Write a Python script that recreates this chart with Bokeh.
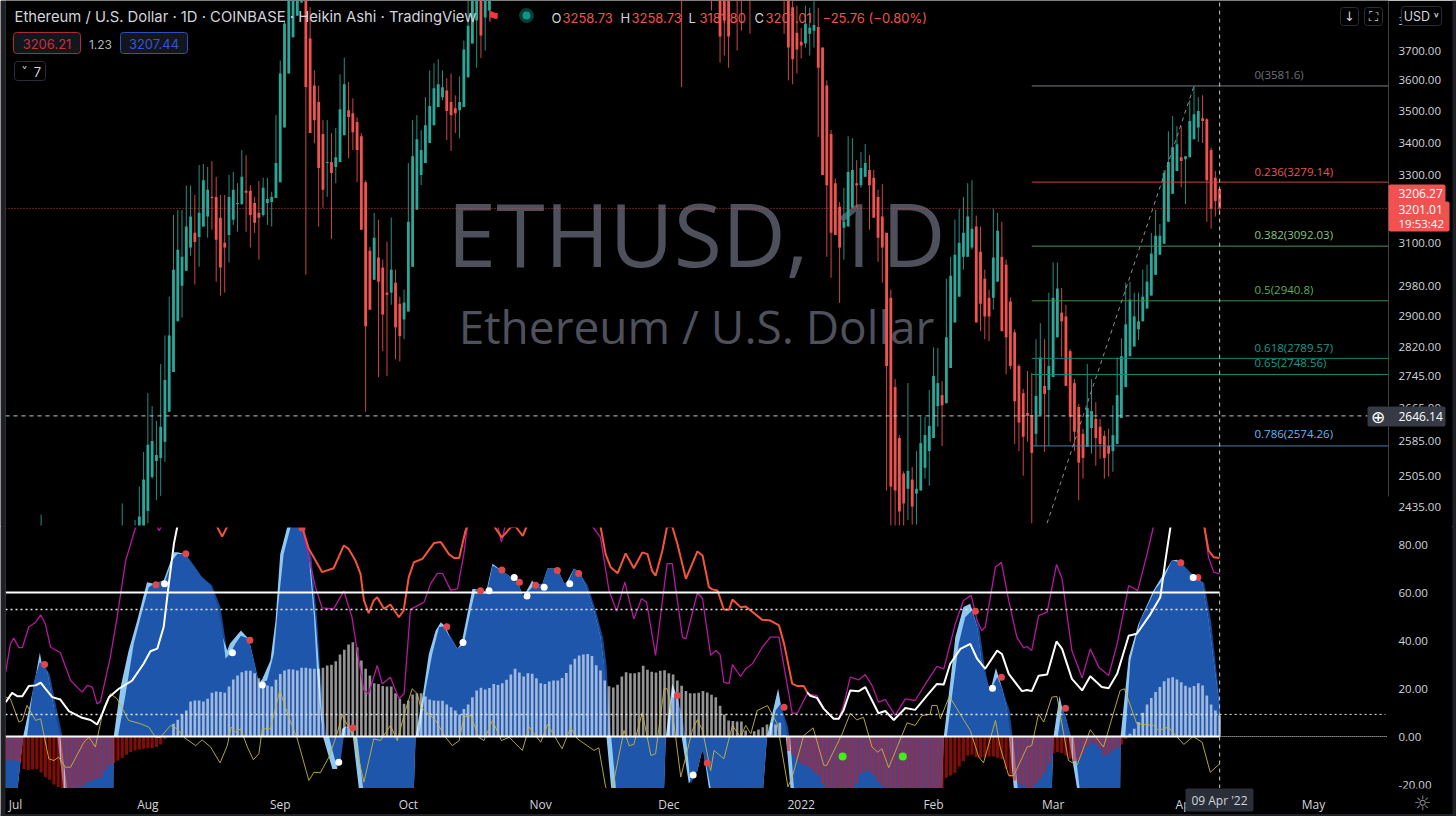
import math
from bokeh.plotting import figure
from bokeh.layouts import column, row
from bokeh.embed import file_html
from bokeh.resources import INLINE
from bokeh.core.properties import value
from bokeh.models import (Range1d, Label, BoxAnnotation, FixedTicker, PrintfTickFormatter, ColumnDataSource)

# ---------------- price data (day 0 = 1 Jul 2021) ----------------
days = [6, 25] + list(range(28, 112)) + [156, 163, 165, 166, 167, 169, 170, 172] + list(range(180, 283))
opens = [2300,2250,2300,2340,
 2380,2425,2502,2539,2546,2584,2656,2755,2886,2982,
 3023,3088,3130,3118,3148,3177,3235,3235,3174,3102,
 3124,3168,3214,3214,3253,3253,3217,3188,3182,3217,
 3220,3232,3279,3448,3623,3745,3820,3867,3950,3741,
 3583,3529,3427,3337,3340,3325,3340,3423,3503,3493,
 3465,3420,3279,3079,2998,3060,3032,2963,2963,2990,
 2933,2891,2912,3034,3197,3301,3337,3399,3455,3513,
 3545,3567,3529,3509,3503,3513,3610,3724,3803,3950,3814,3838,
 4200,4000,3950,3950,3950,3950,3950,3950,
 3950,3950,3850,3761,3730,3724,3757,3768,3781,3710,
 3583,3427,3276,3206,3145,3148,3203,3276,3270,3295,
 3316,3292,3235,3177,3130,2949,2717,2593,2510,2475,
 2496,2464,2471,2523,2562,2593,2670,2697,2677,2765,
 2883,2952,3062,3062,3088,3148,3076,3001,2949,2949,
 2993,3062,3040,2939,2857,2770,2702,2653,2648,2603,
 2648,2720,2710,2742,2844,2909,2899,2808,2727,2668,
 2603,2572,2617,2639,2620,2598,2574,2562,2579,2641,
 2717,2795,2820,2865,2886,2920,2955,3012,3068,3099,
 3162,3244,3313,3355,3349,3355,3411,3448,3477,3474,
 3377,3292,3258.73]
highs = [2417,2442,2405,2480,
 2560,2702,2670,2634,2775,2849,2952,3182,3196,3196,
 3269,3269,3241,3331,3334,3325,3343,3295,3241,3241,
 3301,3310,3276,3377,3361,3270,3235,3282,3292,3292,
 3250,3487,3666,3803,3960,3990,4000,4050,4050,3850,
 3633,3583,3471,3471,3430,3446,3620,3676,3594,3541,
 3480,3430,3285,3090,3188,3168,3054,3105,3174,3026,
 2952,2971,3337,3471,3487,3439,3545,3633,3657,3670,
 3633,3607,3623,3551,3613,3734,3874,3980,4050,4050,4100,4150,
 4300,4100,4000,4000,4000,4020,4020,4020,
 4020,4000,3950,3855,3778,3855,3848,3874,3848,3710,
 3600,3440,3290,3220,3262,3420,3414,3346,3371,3396,
 3361,3316,3256,3273,3130,2971,2737,2600,2515,2727,
 2525,2562,2644,2644,2710,2818,2816,2732,3001,3062,
 3168,3200,3235,3276,3285,3180,3148,3026,2971,3200,
 3188,3162,3054,2950,2865,2775,2712,2757,2752,2839,
 2881,2839,2963,3046,3046,2976,2930,2813,2737,2675,
 2615,2775,2737,2680,2639,2610,2615,2672,2792,2841,
 2990,2993,2963,2963,3026,3040,3130,3197,3156,3316,
 3436,3484,3452,3452,3358,3535,3581.6,3545,3551,3477,
 3385,3313,3258.73]
lows = [2250,2200,2280,2320,
 2370,2398,2498,2449,2459,2537,2656,2755,2886,2896,
 3023,3065,2985,3034,3148,3116,3139,2993,2955,2963,
 3046,3153,3133,3211,3133,3088,3130,3054,3177,3153,
 3148,3232,3279,3448,3623,3745,3820,3867,3012,3430,
 3398,3148,3203,3235,3113,3276,3340,3423,3352,3377,
 3279,3139,2656,2917,2998,2742,2808,2745,2930,2787,
 2782,2839,2912,3034,3197,3270,3337,3399,3455,3513,
 3535,3408,3374,3430,3414,3513,3610,3724,3642,3675,3700,3803,
 3578,3838,3659,3683,3642,3700,3768,3757,
 3757,3600,3587,3623,3673,3710,3683,3710,3418,3301,
 3062,3004,3124,2935,3054,3148,3203,3203,3262,3295,
 3139,3174,3048,2990,2471,2390,2390,2390,2390,2405,
 2395,2395,2471,2498,2482,2593,2620,2574,2677,2765,
 2883,2952,3026,3062,3082,2883,2860,2839,2834,2917,
 2993,2860,2749,2762,2579,2562,2505,2584,2398,2574,
 2648,2560,2574,2742,2844,2792,2720,2584,2562,2449,
 2498,2572,2556,2528,2544,2498,2503,2514,2579,2641,
 2717,2795,2820,2837,2886,2920,2955,3012,3068,3099,
 3162,3244,3313,3264,3214,3355,3411,3402,3399,3162,
 3142,3177,3181.80]
closes = [2350,2350,2380,2413,
 2496,2577,2586,2553,2620,2735,2849,3026,3082,3062,
 3148,3177,3104,3188,3285,3256,3232,3110,3032,3088,
 3235,3256,3217,3295,3247,3182,3159,3174,3262,3229,
 3235,3337,3623,3793,3900,3920,3950,3980,3578,3430,
 3471,3322,3256,3340,3307,3355,3506,3587,3481,3433,
 3377,3139,2873,2917,3116,2993,2904,2957,3026,2870,
 2847,2936,3162,3358,3411,3377,3455,3516,3574,3587,
 3577,3500,3487,3493,3529,3703,3785,3900,3950,3751,4000,4050,
 4100,3950,3748,3803,3748,3900,3900,3900,
 3900,3710,3670,3703,3717,3792,3778,3788,3642,3301,
 3270,3130,3124,3088,3162,3310,3316,3270,3322,3337,
 3270,3174,3116,3088,2770,2480,2471,2424,2442,2516,
 2435,2475,2581,2600,2622,2745,2727,2672,2844,3009,
 3068,3102,3130,3177,3142,2883,2933,2899,2899,3060,
 3136,2860,2844,2770,2682,2630,2596,2646,2558,2695,
 2792,2700,2770,2949,2974,2886,2720,2644,2608,2535,
 2546,2665,2658,2593,2579,2546,2556,2600,2697,2795,
 2878,2944,2899,2886,2952,2993,3071,3122,3122,3307,
 3340,3386,3395,3343,3358,3468,3490,3500,3468,3285,
 3200,3223,3201.01]

fib_ratios = ["0", "0.236", "0.382", "0.5", "0.618", "0.65", "0.786"]
fib_prices = [3581.6, 3279.14, 3092.03, 2940.8, 2789.57, 2748.56, 2574.26]
fib_label_text = ["0(3581.6)", "0.236(3279.14)", "0.382(3092.03)", "0.5(2940.8)", "0.618(2789.57)", "0.65(2748.56)", "0.786(2574.26)"]
fib_line_colors = ["#7e8088", "#c9443f", "#4f8f5a", "#3f8f45", "#12857a", "#12857a", "#4a7ea8"]
fib_text_colors = ["#6f727c", "#ef5350", "#81c784", "#5cae5f", "#1b9a8c", "#1b9a8c", "#64b5f6"]
trend_days = [238, 276]
trend_prices = [2300, 3581.6]
last_price = 3201.01
cross_price = 2646.14
cross_day = 282

price_ticks = [3800, 3700, 3600, 3500, 3400, 3300, 3200, 3100, 2980, 2900, 2820, 2745, 2665, 2585, 2505, 2435]
osc_ticks = [80, 60, 40, 20, 0, -20]
month_days = [0, 31, 62, 92, 123, 153, 184, 215, 243, 274, 304]
month_names = ["Jul", "Aug", "Sep", "Oct", "Nov", "Dec", "2022", "Feb", "Mar", "Apr", "May"]

# ---------------- oscillator data ----------------
hist_days = list(range(-2, 283))
hist_values = [-10, -10,
 -10,-10.5,-13.5,-14,-13.8,-13.5,-15,-17,-18,-20,
 -21,-24,-24,-24,-24,-20.7,-20.4,-19,-18.3,-17.6,
 -17,-14,-12,-11,-10,-9,-7.6,-6.5,-5.8,-5.4,
 -5.1,-4.9,-4.9,-4.4,-3.3,-1,0,5.3,7,9.4,
 10.8,14.6,15,15,14.6,15.7,18.2,18.75,18.5,18.2,
 20.8,23.8,25.4,26.8,27.4,27.4,26.4,24.3,22,21.3,
 20.8,23.6,26,27.5,28,27.9,27.5,28.6,28.6,28.3,
 28.2,28.2,28.6,29.6,29.9,31.4,34.2,36.1,38.3,39.3,
 37.2,31.7,28.2,25.4,22.2,21.9,21,20.8,20.8,18,
 15.7,13.6,15,17.5,18,18,16.7,15.4,15,14.9,
 14.9,13.3,12.2,10.8,9.2,11.5,13.3,16.4,19.2,20.3,
 19.6,20.2,21.9,21.5,22.2,23.6,25.8,28.2,26.7,25,
 26.4,26.1,24.3,22.2,21.9,22.9,23.3,23.3,24.4,26.5,
 30,32.4,33.8,34.2,34.4,33.5,29.7,27.5,23.3,20.9,
 20.4,21.6,25,26.8,26.4,26.4,26.8,29.5,27.8,27,
 26.7,27.4,27.6,26.4,25.8,23.3,21.1,19,18,18,
 18.2,19,18.3,17.4,16.4,12.8,9.2,6.7,6.5,6.3,
 6.3,2.5,0.4,2.2,2.9,3.9,5,5.6,5,5.7,
 0.5,-6,-7.5,-10,-11.4,-12,-13.2,-14.9,-16.2,-19.7,
 -24,-24,-24,-24,-24,-24,-24,-19.7,-15.5,-14.6,
 -14.6,-16.2,-18.6,-20.4,-24,-24,-24,-24,-24,-24,
 -24,-24,-24,-24,-24,-24,-24,-24,-17.2,-16.2,
 -15.1,-12.5,-10.3,-7.9,-7.6,-8.6,-8.9,-8.6,-8.3,-8.3,
 -8.9,-9.4,-13.5,-16.9,-18.3,-19.7,-20.4,-24,-24,-19.7,
 -17.6,-15.1,-11.4,-7.2,-6.5,-6.9,-7.9,-9.3,-10.3,-10,
 -7.2,-4.2,-2.8,-3.3,-5.1,-7.9,-7.2,-5.8,-4.7,-3.3,
 -1,1.1,3.2,6,9.9,13.3,16,18.5,20.6,23,
 24.3,24.7,23.8,22.6,21.1,20.4,21,22.2,21.3,17.1,
 13.3,10.8,8.75]

light_pts = [(-2.3,-30),(0.4,-30),(0.5,-21.5),(1.8,0),(4.3,21),(5.7,35),(6.2,30),(7.4,27.5),(9,12),(9.8,0),(11.2,-21.5),(11.7,-30),
 (22.6,-30),(22.9,-21.5),(23,0),(24.6,20.5),(26.5,35.8),(28.5,48.3),(30.8,64.3),(32.4,63.6),(34.7,65),(37.1,76.8),(37.9,76.8),(39.8,76),
 (45,60),(49.6,35.8),(50.2,38.6),(52.8,44.2),(53.9,42),(54.6,40.7),(57,22),(57.8,24),(59.7,31.7),(60.9,48.3),(62,76),(63.6,87),(65.2,92.7),(66.5,92),(67.1,87.5),
 (69,73),(70.3,48),(71.4,20.6),(72,0),(74.2,-13.5),(75.3,-13.5),(76.5,3.2),(77.3,4.2),(78.4,3.9),(79,0),(80.4,-21.5),(81,-30),
 (92.9,-30),(93.3,-21.5),(93.7,0),(95.3,16.4),(96.8,34.4),(98.4,44.2),(99.6,47.6),(100.7,45.8),(101.9,40.7),(103.5,36.5),(104.5,39.3),(107,61.5),(107.8,61.5),(109.3,60),(110.3,60.8),(111.7,72),
 (114,69),(116,66.4),(117.9,63),(118.9,58),(121,65),(121.8,63),(123.4,63.6),(124.6,70),(126.9,70),(128.5,63.6),(129.1,64.3),(130.8,70),(132,68.5),(133.5,63),(135.5,52.5),(137,41.4),(137.8,30),(138.4,0),(139.5,-21.5),(140,-30),
 (151.7,-30),(151.9,-21.5),(152.3,0),(153.8,22),(155,16.4),(155.8,8),(156,0),(157.7,-19.7),(158.7,-16.3),(159.7,-14.2),(160.8,-5.8),(161.2,-7.2),(162.4,-21.5),(163,-30),
 (174.9,-30),(175.1,-21.5),(176,0),(178.6,20),(179.2,13.6),(180,4),(180.4,0),(181.5,-21.5),(182,-30),
 (216.9,-30),(217,-21.5),(217.4,0),(218.5,16.4),(220.1,41.4),(222,54),(223.6,55.3),(225.2,45.6),(226.3,30.3),(227.9,19.9),(228.3,19.2),(229.6,28.5),(231,20.6),(232.2,10.8),(232.6,0),(233.8,-21.5),(234,-30),
 (242.6,-30),(242.7,-21.5),(243.1,0),(244.5,17),(245.1,12.2),(246.2,6.7),(246.6,0),(248.6,-21.5),(249,-30),
 (258.6,-30),(258.7,-21.5),(258.8,0),(260.7,33),(263,47),(266.5,60.8),(270.8,73.3),(272,73.6),(275.5,67),(277.9,64.3),(279.4,48.3),(281.4,20.6),(282,12.2)]

core_pts = [(-2.3,-30),(0.4,-30),(0.5,-21.5),(1.8,0),(2.7,0),(4.3,23),(5.7,31),(7.4,27.5),(9,12),(10.5,0),(12.1,-21.5),(12.6,-30),
 (22.6,-30),(22.9,-21.5),(23,0),(24,0),(25.8,17.8),(27.7,38.6),(29.3,49.7),(31.2,62.2),(32.4,63.6),(35.1,65),(36.7,73.3),(37.9,76),(39.8,76),(41.8,71.3),(43.7,66.4),(45.7,63),(47.2,55.3),(48.4,44.2),(49.2,32.4),
 (50.4,35),(51.5,38.6),(52.8,42),(54.6,40.7),(55.8,31.7),(57,22),(58.9,23.3),(60.5,34.4),(61.4,52.5),(62.8,76),(64.4,87),(65.6,92),(66.7,92),(67.1,87.5),(68.7,74.7),(69.9,49.7),(70.6,27.5),(71.6,6.7),(72.4,0),
 (73.4,0),(75.3,-13),(76.1,-10.7),(76.9,0),(77.3,3.9),(78.4,3.9),(79.2,0),(80,0),(81.4,-21.5),(82,-30),
 (92.9,-30),(93.3,-21.5),(93.7,0),(94.5,0),(96,19.2),(97.6,34.4),(99.2,45.6),(100.3,45.8),(101.9,40.7),(103.5,36.5),(105,38.6),(106.6,52.5),(107.8,61.5),(109.3,60),(110.5,60.8),(111.7,71.3),
 (114,69),(116,66.4),(117.9,63),(118.9,58),(120.3,60.8),(121.4,63),(123.4,63.6),(124.6,69.9),(126.9,69.9),(128.5,63.6),(129.6,65),(130.8,69.9),(132,68.5),(133.5,63),(135.5,52.5),(137,41.4),(137.8,30.3),(138.4,12.2),(138.8,0),(139.5,0),(140.6,-21.5),(141,-30),
 (151.7,-30),(151.9,-21.5),(152.3,0),(153.1,0),(153.8,16.4),(155,16.4),(155.8,8),(156.4,0),(157,0),(158.1,-19.7),(158.7,-17.6),(159.7,-14.2),(160.8,-5.8),(161.6,-10),(162.8,-21.5),(163.3,-30),
 (174.9,-30),(175.1,-21.5),(176,0),(176.8,0),(178,10.8),(179.2,13.6),(180.4,3.9),(180.8,0),(181.4,0),(182.3,-21.5),(182.8,-30),
 (216.9,-30),(217,-21.5),(217.4,0),(218.1,0),(219.3,16.4),(220.9,38.6),(222.4,49.7),(224,52.5),(225.2,45.6),(226.3,30.3),(228.3,19.2),(229.9,24.7),(231,20.6),(232.2,10.8),(233.1,0),(233.6,0),(234.7,-21.5),(235,-30),
 (242.6,-30),(242.7,-21.5),(243.1,0),(244.1,0),(245.1,12.2),(246.2,6.7),(247.2,0),(247.8,0),(249.2,-21.5),(249.6,-30),
 (258.6,-30),(258.7,-21.5),(258.8,0),(259.9,0),(261.1,31.7),(263.4,48.3),(267,61.5),(268.9,65.7),(270.8,73.3),(272.8,72.6),(275.5,67),(277.9,64.3),(279.4,48.3),(281.4,20.6),(282,12.2)]

dark_pts = [(5,0),(5.7,31),(8,26),(9.6,12),(11,0),(40,0),(43.7,66.4),(46,63),(48,54),(49.2,40),(49.9,30),(50.4,0),
 (53,0),(54.6,41),(56,31),(57.3,20),(57.6,0),(66,0),(67.1,88),(69.3,75),(70.6,50),(71.4,27),(72.2,8),(72.8,0),
 (99,0),(100.3,46),(102.3,40.7),(104,35),(104.5,0),(131,0),(132,68.5),(134,63),(136,52),(137.6,41),(138.4,30),(139,12),(139.4,0),
 (154.9,0),(155,16.4),(156.2,8),(156.8,0),(178.9,0),(179.2,13.6),(180.9,3.9),(181.2,0),
 (223.9,0),(224,52.5),(225.7,45.6),(226.9,30),(228,20),(228.5,0),(230.9,0),(231,20.6),(232.8,10.8),(233.5,0),
 (272.7,0),(272.8,72.6),(276,67),(278.4,64),(280,48),(282,15)]

mom_pts = [(-2.3,14.3),(-0.8,18.2),(0.4,16.8),(1.6,16.8),(3.1,21),(4.7,21.3),(5.9,22.4),(7,19.9),(8.6,16.4),(10.5,15.4),(12.5,10.6),(15.6,7.8),(17.6,6.9),(19.1,5),(20.3,9.4),(21.9,16.4),(24.2,19.9),(27.3,23.3),(30,30.3),(31.6,35.5),(33.2,36.6),(34.7,45.6),(35.9,63.6),(37.1,80.3),(37.9,87.5),(39,100),
 (46,100),(47.2,87.5),(48.4,83.3),(49.6,87.5),(50.5,95),(66,100),(67.1,87.5),(68.7,78.2),(71.8,68.5),(74.5,70.1),(76.9,79.6),(78,78.2),(79.6,73.3),(80.8,67.8),(81.6,56.7),(82.7,51.4),(83.9,56.7),(84.7,58),(86.3,53.2),(87.8,55),(89.8,49.7),(90.9,52.5),(92.1,66.4),(93.3,72.6),(95.3,74),(98,80.6),(99.6,81),(101.5,76),(102.7,74.4),(103.9,74.4),(105.4,85.8),(105.8,87.5),(106.5,95),
 (111,100),(112.1,87.5),(113.9,83),(116,87.2),(117.1,87.5),(118.8,83.6),(119.7,87.5),(120.5,95),(136,100),(137,87.5),(138.2,76),(139.4,70.5),(141,68),(142.9,76.3),(144.8,70.1),(146.8,76.7),(148,76),(149.1,69),(149.9,67),(151.5,77.5),(152.6,87.5),(153.8,87.5),(155,80.3),(157,65.7),(159.7,77.1),(160.9,75.4),(162.4,62.2),(163.2,61.3),(164.4,60.8),(165.9,52.9),(167.1,52.8),(167.9,57.1),(169.8,53.9),(171,54.2),(174.9,48.6),(176.8,48.3),(178.8,46.3),(180,38.6),(181.9,22),(183.1,21),(184.6,21),(185.4,18.5),
 (186.1,17),(187.7,16.1),(189.3,11.5),(191.6,7.4),(192.8,7.4),(193.9,10.8),(195.5,19.2),(197.5,18.9),(199,20.6),(200.6,15),(202.1,9.7),(203.7,10.6),(205.7,6.9),(208.4,11.9),(210.7,11.1),(213.5,17.1),(215.8,21.9),(217.4,21.7),(218.9,30.3),(221.3,36.5),(223.6,38.6),(225.2,32.4),(227.1,28.2),(229.9,35.8),(231,34.4),(232.6,26.1),(235.7,18.9),(236.9,19.4),(238,18.9),(239.6,25.3),(241.6,25.8),(243.8,39.6),(245.1,36.5),(247.4,24),(249.8,19.2),(251.7,25.1),(254.4,20.6),(256,20.1),(258,26.1),(260.7,42),(262.6,42.8),(265.8,51),(268.1,58),(269.3,73.3),(270.5,87.5),(271.5,100),
 (277,100),(278.4,87.5),(279.4,77.5),(280.6,74.7),(282,74.4)]
mom_red_spans = [(42, 185.4), (275, 283)]

magenta_pts = [(-2.3,26.8),(-1.2,38.6),(-0.4,41),(0.8,37),(1.6,37),(3.1,45.6),(4.7,47.6),(5.9,50.7),(7,46.9),(8.2,37.2),(10.5,35),(12.9,23.3),(15.6,18.5),(16.8,21.3),(18,20.6),(19.1,13.6),(19.9,14.6),(22.2,33),(23.8,49.7),(25.8,73.3),(28.1,87),(29,92),(32,92),(33.6,85.8),(34.7,89),(36,100),
 (66,100),(67.1,87.5),(69,72),(70.3,62),(71.8,53.6),(74.5,53.2),(76.9,60.6),(78.8,49.7),(80,35.8),(81.6,19.2),(82.7,17.8),(84.7,29.6),(85.9,21.9),(87.8,24.7),(89.8,15.7),(91,17.8),(92.5,53),(95.7,56),(97.2,63.6),(98.8,68),(100,68),(101.9,61),(103.5,61.5),(105,76),(105.8,87.5),(106.4,95),
 (112,95),(113.8,81),(115.6,95),(134,100),(135.1,87.5),(137,83),(139,60.8),(140.8,52.2),(142.7,64.3),(144.8,49),(146.6,57.4),(147.8,56),(149.9,33.8),(152.6,72),(153.8,72),(156.2,41.4),(157,40.7),(159.7,60),(160.9,57.4),(162.8,33.8),(164,35.8),(165,34.2),(165.9,22.6),(167.1,22),(167.9,29.9),(169.8,25),(171,28.2),(172.6,30.3),(174.9,37.2),(176.8,41.4),(178.8,41.4),(180,28.9),(181.9,9.7),(183.1,9.7),(185.4,17.8),
 (187.7,17),(189.3,11.5),(191.6,7.4),(192.8,7.4),(193.9,12.9),(195.5,24.7),(197.5,23.6),(199,25.8),(200.6,21.3),(202.1,14.3),(203.7,15.4),(206,8.8),(208.4,15.7),(210.7,15),(213.1,21.9),(215.8,29.2),(217.4,28.2),(220.1,47),(222,56.7),(223.8,58.8),(225.2,48.3),(226.3,44.2),(227.1,45.6),(229.5,70.6),(230.9,72.6),(232.6,56.7),(234.5,41.4),(236.1,36.9),(236.9,37.5),(238,35.8),(239.6,50.4),(241.6,51.8),(243.8,71.7),(245.1,65.7),(247.4,35.8),(249.8,24.4),(251.7,36.5),(253.7,28.9),(256,25.4),(258,38.6),(260.7,62.9),(262.8,60.8),(265,76),(266.5,87.5),(267.5,100),
 (277,100),(278.4,87.5),(279.4,74.7),(280.6,68.5),(282,67.8)]

yellow_pts = [(-2.3,16.4),(-1.2,15.7),(0.8,6),(1.6,6.7),(2.7,13),(4.7,6.7),(5.9,7.4),(7.8,-9.3),(9,-10),(10.1,-8.6),(11.7,-12.8),(12.9,-12.8),(16,-2.4),(17.2,-0.3),(18.7,-4.4),(20.7,12.2),(22.2,17.8),(23.8,15.7),(26.5,6.7),(29.3,5.3),(31.2,3.9),(32.8,-0.3),(34,-0.3),(36.3,4.6),(37.9,3.2),(39.4,-0.3),(42.2,-3.8),(43.7,-1.4),(45.7,-4.4),(47.9,-11),(49.6,-3.8),(50.5,3.9),(51.5,1.8),(52.7,3.2),(54.3,-4.4),(55.7,-9.7),(57,-7.2),(57.8,3.2),(59.7,3.2),(61.9,19.2),(64,8),(66,-1),(68.7,-18.3),(69.9,-14.9),(71.4,-15.1),(73.4,-8.6),(75.3,1.1),(76.5,8.8),(78,3.9),(79.2,-0.3),(81.6,-19),(83.9,-1),(85.5,-1.7),(87.8,4.6),(89.4,-1.7),(91.3,10.8),(92.9,19.9),(94.1,17.8),(94.9,12.2),
 (98.4,6.7),(100.7,-0.3),(102.3,-3.8),(103.9,-1.7),(105,8),(106.6,8.8),(108.5,-0.3),(109.7,-1.7),(111.7,6.7),(113.8,-1.7),(115.6,-0.3),(118.7,-5.8),(120.3,3.9),(123,-2.4),(124.6,5),(128,-5.1),(130,3.6),(131.6,-1),(135.5,-5.8),(136.6,-4.7),(138.2,-21),(139.5,-24),(142.5,2.5),(143.7,-3.8),(144.8,-3.3),(146.8,10),(148.8,-7.9),(149.9,-7.2),(151.9,19.9),(152.6,19.9),(154.2,5.3),(155.8,-16.9),(158.5,2.5),(159.7,7),(160.9,2.5),(162.8,-14.2),(163.6,-5.8),(165.9,-9.3),(167.9,4.6),(169.8,-0.3),(171,4.6),(172.2,1.1),(173.7,10.8),(176.1,12.9),(178.4,5.3),(180.9,-21),(181.9,-16.9),(184.6,0.4),(186.8,3.6),
 (189.3,-12),(190,-12),(193.6,1.1),(195.5,9.7),(197,6.9),(198.6,8),(200.6,-4.4),(201.9,-6.5),(202.9,-5.1),(204.5,-13),(208.8,5.7),(210.7,4.6),(212.3,8.8),(214.2,9.2),(214.6,12.9),(215.8,12.9),(216.6,7.4),(218.7,16.7),(223.6,2.5),(225.6,-8.6),(226.7,-11),(229.5,6.7),(230.6,-4.4),(232.6,-16.3),(233.8,-16.3),(236.9,-4.4),(238,-3.8),(239.6,9.4),(240.8,6),(242.7,16.4),(243.9,16.7),(246.6,-10),(248.6,-12),(251.7,2.8),(254.8,-4.4),(258.7,19.2),(259.7,19.9),(262.6,5.3),(266.5,4.6),(267.7,2.5),(270,3.9),(273.6,-3.3),(275.8,0),(277.9,-2.4),(279.8,-14.9),(282,-11.4)]

red_dots = [(6.8,30),(32.9,63.2),(39.9,76.1),(54.9,40.1),(67.1,86.9),(79,3.6),(101,45.7),(108.9,60.7),(113.9,69.4),(118,64.3),(121.8,63),(126.9,69.2),(131.9,67.9),(155,17.1),(162,-11),(180,12.2),(224.8,52.2),(230.9,24.7),(245.9,11.8),(272.9,72.4),(276.9,66.3)]
white_dots = [(34.9,63.6),(50.8,34.9),(57.8,21.5),(75.7,-10.7),(104.8,39.2),(110.9,60.7),(116.8,66.3),(119.8,58.5),(123.8,62.2),(129.8,63.6),(158.7,-16),(228.8,20.1),(275.8,66.3)]
green_dots = [(193.7,-8.3),(207.8,-8.3)]

level_solid = [60, 0]
level_dotted = [52.9, 9.2]

# ---------------- page geometry helpers (chrome placement only) ----------------
X = lambda px: (px - 15) / 4.27
PY = lambda y: 3700 * math.exp((50 - y) / 1090)
VY = lambda y: (736 - y) / 2.4
TXT = "#d1d4dc"
TV = "Open Sans"
HD = "Inter"
GREEN, RED = "#2ba79a", "#ef5350"


def style(p):
    p.grid.visible = False
    p.outline_line_color = None
    p.outline_line_alpha = 0
    p.background_fill_color = "#000000"
    p.border_fill_color = "#000000"
    for ax in p.yaxis:
        ax.axis_line_color = None
        ax.major_tick_line_color = None
        ax.minor_tick_line_color = None
        ax.major_tick_out = 0
        ax.major_tick_in = 0
        ax.minor_tick_out = 0
        ax.major_label_text_color = TXT
        ax.major_label_text_font = TV
        ax.major_label_text_font_size = "11.5px"
        ax.major_label_standoff = 10
        ax.formatter = PrintfTickFormatter(format="%.2f")


# ---------------- price pane ----------------
p1 = figure(width=1456, height=526, x_range=Range1d(X(5), X(1388)), y_range=Range1d(PY(526), PY(0)),
            y_axis_type="log", x_axis_location=None, y_axis_location="right", toolbar_location=None,
            output_backend="svg", min_border_left=5, min_border_right=68, min_border_top=0, min_border_bottom=0)
style(p1)
p1.yaxis[0].ticker = FixedTicker(ticks=price_ticks)

p1.text(x=[X(696)], y=[PY(232)], text=["ETHUSD, 1D"], text_color="#4e505c", text_font=value(TV),
        text_font_size=value("88px"), text_align="center", text_baseline="middle")
p1.text(x=[X(696)], y=[PY(325)], text=["Ethereum / U.S. Dollar"], text_color="#4e505c", text_font=value(TV),
        text_font_size=value("46px"), text_align="center", text_baseline="middle")

colors = [GREEN if c >= o else RED for o, c in zip(opens, closes)]
src = ColumnDataSource(dict(d=days, o=opens, h=highs, l=lows, c=closes, col=colors,
                            top=[max(a, b) for a, b in zip(opens, closes)],
                            bot=[min(a, b) for a, b in zip(opens, closes)]))
p1.segment("d", "h", "d", "l", source=src, line_color="col", line_width=1, line_alpha=0.85)
p1.vbar("d", 0.66, "top", "bot", source=src, fill_color="col", line_color=None)

for pr, col in zip(fib_prices, fib_line_colors):
    p1.line([238, X(1388)], [pr, pr], line_color=col, line_width=1)
p1.line(trend_days, trend_prices, line_color="#8a8d94", line_width=1, line_dash="4 4")
p1.line([X(5), X(1388)], [last_price, last_price], line_color="#ef5350", line_width=1, line_dash="1 2", line_alpha=0.85)
p1.line([X(5), X(1367)], [cross_price, cross_price], line_color="#c8c9cc", line_width=1, line_dash="4 4")
p1.line([cross_day, cross_day], [PY(526), PY(0)], line_color="#c8c9cc", line_width=1, line_dash="4 4")

# ---------------- oscillator pane ----------------
p2 = figure(width=1456, height=290, x_range=Range1d(X(5), X(1388)), y_range=Range1d(VY(788), VY(526)),
            y_axis_location="right", toolbar_location=None, output_backend="svg",
            min_border_left=5, min_border_right=68, min_border_top=0, min_border_bottom=28)
style(p2)
p2.yaxis[0].ticker = FixedTicker(ticks=osc_ticks)
xa = p2.xaxis[0]
xa.ticker = FixedTicker(ticks=month_days)
xa.major_label_overrides = dict(zip(month_days, month_names))
xa.axis_line_color = None
xa.major_tick_line_color = None
xa.minor_tick_line_color = None
xa.major_tick_out = 0
xa.major_tick_in = 0
xa.minor_tick_out = 0
xa.major_label_text_color = TXT
xa.major_label_text_font = TV
xa.major_label_text_font_size = "12px"
xa.major_label_standoff = 7


def unzip(pts):
    return [a for a, _ in pts], [b for _, b in pts]


dd, dv = unzip(dark_pts)
p2.varea(dd, [0] * len(dd), dv, fill_color="#17458f")
ld, lv = unzip(light_pts)
p2.varea(ld, [0] * len(ld), lv, fill_color="#8ec8f3")
cd, cv = unzip(core_pts)
p2.varea(cd, [0] * len(cd), cv, fill_color="#1e56ab")

pos = [(d, v) for d, v in zip(hist_days, hist_values) if v >= 0]
neg = [(d, v) for d, v in zip(hist_days, hist_values) if v < 0]
pd_, pv_ = unzip(pos)
nd_, nv_ = unzip(neg)
p2.vbar(nd_, 0.72, [0] * len(nd_), nv_, fill_color="#e3140a", fill_alpha=0.58, line_color=None)
p2.vbar(pd_, 0.62, [0] * len(pd_), pv_, fill_color="#ffffff", fill_alpha=0.58, line_color=None)

yd, yv = unzip(yellow_pts)
p2.line(yd, yv, line_color="#c9b43c", line_width=1, line_alpha=0.9)
md, mv = unzip(magenta_pts)
p2.line(md, mv, line_color="#b5189f", line_width=1.3)

a0, b0 = mom_red_spans[0]
a1, b1 = mom_red_spans[1]
for seg, col in [([q for q in mom_pts if q[0] <= a0], "#ffffff"),
                 ([q for q in mom_pts if a0 <= q[0] <= b0], "#f4553a"),
                 ([q for q in mom_pts if b0 <= q[0] <= a1], "#ffffff"),
                 ([q for q in mom_pts if q[0] >= a1], "#f4553a")]:
    sd, sv = unzip(seg)
    p2.line(sd, sv, line_color=col, line_width=2)

for lv_ in level_solid:
    p2.line([X(5), cross_day], [lv_, lv_], line_color="#ffffff", line_width=2)
for lv_ in level_dotted:
    p2.line([X(5), cross_day], [lv_, lv_], line_color="#e8e8e8", line_width=1.5, line_dash="2 3")
p2.line([cross_day, X(1385)], [level_dotted[1], level_dotted[1]], line_color="#e8e8e8", line_width=1, line_dash="2 3")
p2.line([cross_day, X(1388)], [0, 0], line_color="#d8d8d8", line_width=1, line_dash="1 1")

for pts, col, sz in [(red_dots, "#e0474c", 7), (white_dots, "#ffffff", 7), (green_dots, "#3ff015", 8)]:
    a, b = unzip(pts)
    p2.scatter(a, b, size=sz, fill_color=col, line_color=None)

p2.line([cross_day, cross_day], [VY(788), VY(526)], line_color="#c8c9cc", line_width=1, line_dash="4 4")

# ---------------- transparent page-sized layer for the TradingView chrome ----------------
ov = figure(width=1456, height=816, x_range=Range1d(0, 1456), y_range=Range1d(816, 0), x_axis_location=None,
            y_axis_location=None, toolbar_location=None, output_backend="svg", min_border=0)
ov.grid.visible = False
ov.outline_line_color = None
ov.background_fill_alpha = 0
ov.border_fill_alpha = 0


def label(px, py, s, color=TXT, size=12, font=TV, align="left"):
    ov.add_layout(Label(x=px, y=py, text=s, text_color=color, text_font_size=f"{size}px", text_font=font,
                        text_align=align, text_baseline="middle"))


def box(x0, x1, y0, y1, fill, line=None, radius=2):
    ov.add_layout(BoxAnnotation(left=x0, right=x1, top=y0, bottom=y1, fill_color=fill, fill_alpha=1,
                                line_color=line, line_alpha=1 if line else 0, line_width=1, border_radius=radius))


# mask the hairline that the panes leave along their edges
box(5, 1452, 525, 527, "#000000", None, 0)
box(1386.5, 1392, 496, 789, "#000000", None, 0)
box(5, 1392, 787.5, 789, "#000000", None, 0)

label_ys = [74, 171, 234, 289, 347, 362, 433]
for s, col, y in zip(fib_label_text, fib_text_colors, label_ys):
    label(1254, y, s, color=col, size=11.5)

# header
label(14, 16, "Ethereum / U.S. Dollar · 1D · COINBASE · Heikin Ashi · TradingView", size=14.8, font=HD)
label(486, 16, "⚑", color="#f23645", size=15, font="DejaVu Sans")
ov.scatter([526], [15], size=15, fill_color="#0a3a34", line_color=None)
ov.scatter([526], [15], size=8, fill_color="#089981", line_color=None)
ohlc_x = [(551, "O"), (620, "H"), (688, "L"), (754, "C")]
ohlc_val = ["3258.73", "3258.73", "3181.80", "3201.01"]
for (xx, s), v in zip(ohlc_x, ohlc_val):
    label(xx, 17, s, size=13, font=HD)
    label(xx + 11, 17, v, color="#ef5350", size=13, font=HD)
label(822, 17, "−25.76 (−0.80%)", color="#ef5350", size=13, font=HD)

# buy/sell boxes
box(13, 80, 32, 53, "#14161d", "#b02a35", 3)
label(46.5, 43, "3206.21", color="#c9303c", size=13, font=HD, align="center")
label(100, 44, "1.23", color="#b2b5be", size=12, font=HD, align="center")
box(120, 187, 32, 53, "#14161d", "#2a50c8", 3)
label(153.5, 43, "3207.44", color="#2f57d8", size=13, font=HD, align="center")
box(14, 45, 61, 80, "#000000", "#2a2e39", 3)
label(24, 71, "˅", size=13, font="DejaVu Sans", align="center")
label(37, 71, "7", size=13, font=HD, align="center")

# top-right buttons
box(1340, 1358, 7, 25, "#000000", "#2a2e39", 3)
label(1349, 16, "↓", size=13, font="DejaVu Sans", align="center")
box(1364, 1382, 7, 25, "#000000", "#2a2e39", 3)
label(1373, 16, "⛶", size=13, font="DejaVu Sans", align="center")
box(1401, 1441, 6, 25, "#000000", "#2a2e39", 3)
label(1421, 16, "USD ˅", size=12.5, font=HD, align="center")

# axis price tags
box(1388, 1445, 184, 205, "#ef5350", None, 2)
label(1398, 193, "3206.27", color="#ffffff", size=12)
box(1388, 1449, 201, 231, "#ef5350", None, 2)
label(1398, 209, "3201.01", color="#ffffff", size=12)
label(1398, 223, "19:53:42", color="#ffffff", size=11.5)
box(1367, 1388, 406, 426, "#363a45", None, 2)
label(1377.5, 416, "⊕", color="#ffffff", size=17, font="DejaVu Sans", align="center")
box(1388, 1445, 406, 426, "#363a45", None, 2)
label(1398, 416, "2646.14", color="#ffffff", size=12)

# bottom-axis chrome
box(1392, 1452, 788, 796, "#000000", None, 0)
box(1185, 1253, 788, 811, "#2a2e39", None, 2)
label(1219, 800, "09 Apr '22", size=12, align="center")
label(1422, 802, "☼", color="#8a8d95", size=20, font="DejaVu Sans", align="center")

# window edges
box(0, 5, 0, 816, "#1f2026", None, 0)
box(1452, 1456, 0, 816, "#1f2026", None, 0)
box(0, 1456, 813.5, 816, "#1f2026", None, 0)

panes = column(p1, p2, spacing=0)
layer = row(ov, margin=(-816, 0, 0, 0))
page = column(panes, layer, spacing=0)
open("out.html", "w").write(file_html(page, INLINE))
